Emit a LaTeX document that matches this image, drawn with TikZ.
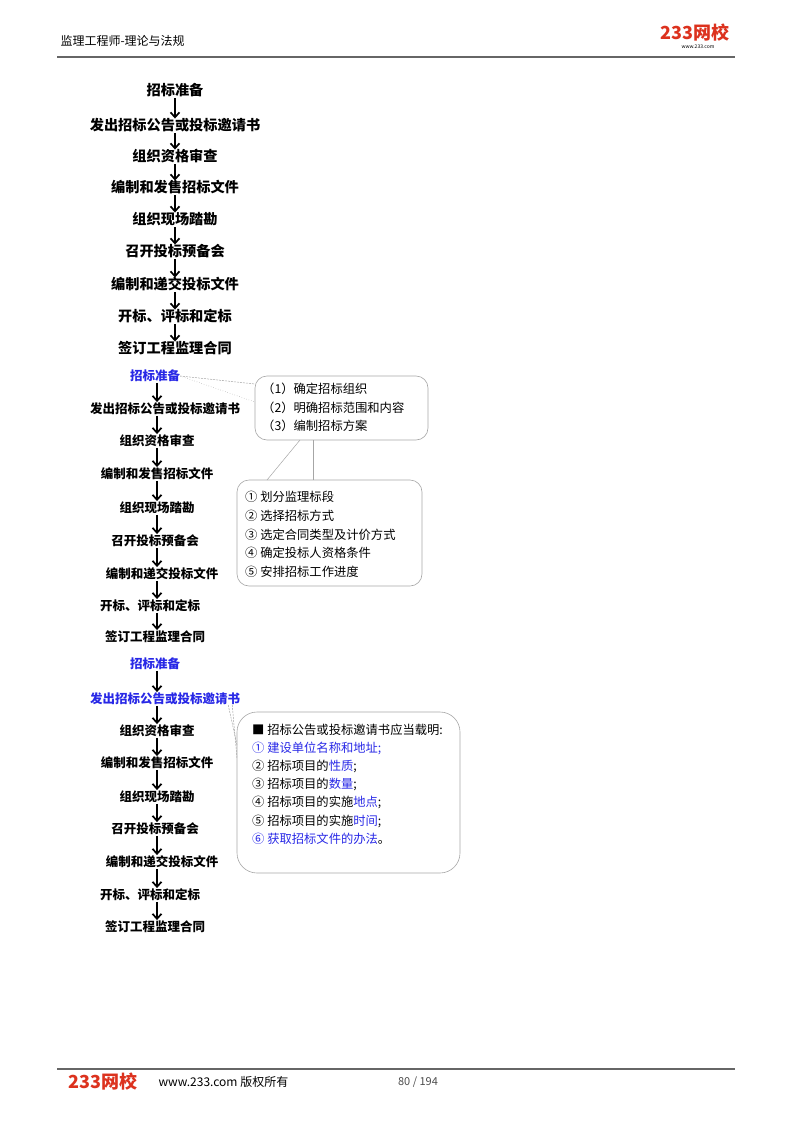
\documentclass[tikz,border=0pt]{standalone}
\usepackage{fontspec}
\usetikzlibrary{arrows.meta}
\setmainfont{Noto Sans CJK SC}
\definecolor{bl}{RGB}{40,40,230}
\definecolor{lr}{RGB}{220,50,30}
\tikzset{
 fa/.style={font=\bfseries\fontsize{14.2}{14}\selectfont, inner sep=0pt, text height=11pt, text depth=1.5pt},
 fb/.style={font=\bfseries\fontsize{12.5}{12}\selectfont, inner sep=0pt, text height=10pt, text depth=1.5pt},
 ar/.style={-{Straight Barb[length=5pt,width=9pt,line width=1.7pt]}, line width=1.7pt, shorten <=1pt, shorten >=1pt},
 item/.style={font=\fontsize{12.3}{12}\selectfont, anchor=west, inner sep=0pt},
 cbox/.style={draw=gray!70, rounded corners=12pt, line width=0.6pt},
 ptr/.style={draw=gray!70, line width=0.5pt},
}
\begin{document}
\begin{tikzpicture}[x=1pt,y=-1pt]
\useasboundingbox (0,0) rectangle (800,1132);
\coordinate (ax) at (157,0);
% header
\node[font=\fontsize{12}{12}\selectfont, anchor=west] (ht) at (57,41) {监理工程师-理论与法规};
\node[font=\bfseries\itshape\fontsize{18}{18}\selectfont, text=lr] (lg1) at (695,33) {233网校};
\node[font=\fontsize{5}{5}\selectfont] (lg1w) at (698,47) {www.233.com};
\draw[gray!80!black, line width=1.2pt] (57,57) coordinate (h1) -- (735,57) coordinate (h2);
% footer
\draw[gray!80!black, line width=1.2pt] (57,1069) coordinate (f1) -- (735,1069) coordinate (f2);
\node[font=\bfseries\itshape\fontsize{18}{18}\selectfont, text=lr] (lg2) at (103,1082) {233网校};
\node[font=\fontsize{12}{12}\selectfont, anchor=west] (ft) at (155,1082) {www.233.com 版权所有};
\node[font=\fontsize{11}{11}\selectfont, text=gray!60!black] (pg) at (418,1082) {80 / 194};
% flow 1
\foreach \t/\y [count=\i] in {招标准备/91,发出招标公告或投标邀请书/126,组织资格审查/157,编制和发售招标文件/188,组织现场踏勘/220,召开投标预备会/252,编制和递交投标文件/285,开标、评标和定标/317,签订工程监理合同/349}
  \node[fa] (a\i) at (175,\y) {\t};
\foreach \i/\j in {1/2,2/3,3/4,4/5,5/6,6/7,7/8,8/9}
  \draw[ar] (a\i.south) -- (a\j.north);
% flow 2
\node[fb,text=bl] (b1) at (155,376) {招标准备};
\foreach \t/\x/\y [count=\k] in {发出招标公告或投标邀请书/165/409,组织资格审查/157/441,编制和发售招标文件/157/474,组织现场踏勘/157/508,召开投标预备会/155/541,编制和递交投标文件/162/574,开标、评标和定标/150/606,签订工程监理合同/155/637}
  {\pgfmathtruncatemacro{\i}{\k+1}
  \node[fb] (b\i) at (\x,\y) {\t};}
\foreach \i/\j in {1/2,2/3,3/4,4/5,5/6,6/7,7/8,8/9}
  \draw[ar] (ax |- b\i.south) -- (ax |- b\j.north);
% flow 3
\node[fb,text=bl] (c1) at (155,664) {招标准备};
\node[fb,text=bl] (c2) at (165,699) {发出招标公告或投标邀请书};
\foreach \t/\x/\y [count=\k] in {组织资格审查/157/731,编制和发售招标文件/157/763,组织现场踏勘/157/797,召开投标预备会/155/829,编制和递交投标文件/162/862,开标、评标和定标/150/895,签订工程监理合同/155/927}
  {\pgfmathtruncatemacro{\i}{\k+2}
  \node[fb] (c\i) at (\x,\y) {\t};}
\foreach \i/\j in {1/2,2/3,3/4,4/5,5/6,6/7,7/8,8/9}
  \draw[ar] (ax |- c\i.south) -- (ax |- c\j.north);
% callout 1
\draw[cbox] (255,376) rectangle (428,440);
\coordinate (p1) at (255,384);
\coordinate (p2) at (255,402);
\draw[ptr, dash pattern=on 2pt off 1pt] (b1.east) -- (p1);
\draw[ptr, dotted] (b1.east) -- (p2);
\node[item] (t11) at (262,389) {（1）确定招标组织};
\node[item] (t12) at (262,408) {（2）明确招标范围和内容};
\node[item] (t13) at (262,426) {（3）编制招标方案};
% callout 2
\draw[cbox] (237,480) rectangle (422,586);
\coordinate (q1) at (313,440);
\coordinate (q2) at (313,480);
\coordinate (q3) at (300,440);
\coordinate (q4) at (267,480);
\draw[ptr] (q1) -- (q2);
\draw[ptr] (q3) -- (q4);
\node[item] (t21) at (245,497) {① 划分监理标段};
\node[item] (t22) at (245,516) {② 选择招标方式};
\node[item] (t23) at (245,535) {③ 选定合同类型及计价方式};
\node[item] (t24) at (245,553) {④ 确定投标人资格条件};
\node[item] (t25) at (245,572) {⑤ 安排招标工作进度};
% callout 3
\draw[cbox, rounded corners=20pt] (237,712) rectangle (460,873);
\coordinate (r1) at (237,745);
\coordinate (r2) at (237,758);
\draw[ptr, dash pattern=on 2pt off 1pt] (c2.south east) ++(-12,0) -- (r1);
\draw[ptr, dash pattern=on 2pt off 1pt] (c2.south east) ++(-8,0) -- (r2);
\node[item] (t30) at (252,730) {■ 招标公告或投标邀请书应当载明:};
\node[item,text=bl] (t31) at (252,748) {① 建设单位名称和地址;};
\node[item] (t32) at (252,766) {② 招标项目的\textcolor{bl}{性质};};
\node[item] (t33) at (252,784) {③ 招标项目的\textcolor{bl}{数量};};
\node[item] (t34) at (252,802) {④ 招标项目的实施\textcolor{bl}{地点};};
\node[item] (t35) at (252,821) {⑤ 招标项目的实施\textcolor{bl}{时间};};
\node[item] (t36) at (252,839) {\textcolor{bl}{⑥ 获取招标文件的办法}。};
\end{tikzpicture}
\end{document}
